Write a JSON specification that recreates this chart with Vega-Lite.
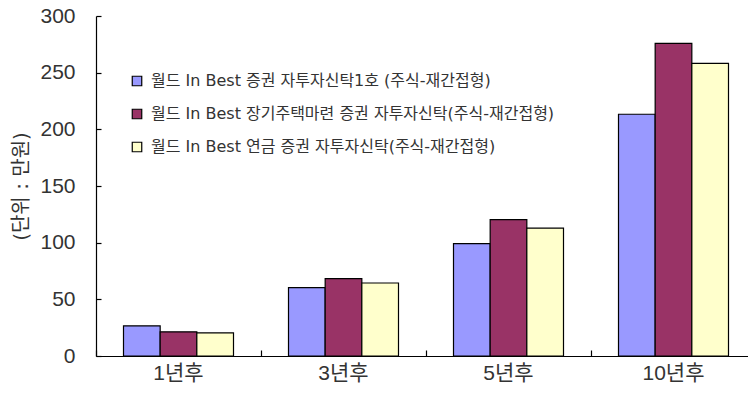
{
  "$schema": "https://vega.github.io/schema/vega-lite/v6.json",
  "width": 660,
  "height": 340,
  "autosize": {"type": "none"},
  "padding": {"left": 96, "top": 16, "right": 0, "bottom": 47},
  "background": "white",
  "config": {
    "view": {"stroke": null},
    "font": "DejaVu Sans, Noto Sans CJK KR",
    "axis": {"grid": false, "domainColor": "#000000", "tickColor": "#000000", "labelColor": "#333333", "titleColor": "#333333"}
  },
  "data": {
    "values": [
      {"period": "1년후", "fund": "월드 In Best 증권 자투자신탁1호 (주식-재간접형)", "value": 26.6},
      {"period": "1년후", "fund": "월드 In Best 장기주택마련 증권 자투자신탁(주식-재간접형)", "value": 21.3},
      {"period": "1년후", "fund": "월드 In Best 연금 증권 자투자신탁(주식-재간접형)", "value": 20.4},
      {"period": "3년후", "fund": "월드 In Best 증권 자투자신탁1호 (주식-재간접형)", "value": 60.4},
      {"period": "3년후", "fund": "월드 In Best 장기주택마련 증권 자투자신탁(주식-재간접형)", "value": 68.2},
      {"period": "3년후", "fund": "월드 In Best 연금 증권 자투자신탁(주식-재간접형)", "value": 64.4},
      {"period": "5년후", "fund": "월드 In Best 증권 자투자신탁1호 (주식-재간접형)", "value": 99.2},
      {"period": "5년후", "fund": "월드 In Best 장기주택마련 증권 자투자신탁(주식-재간접형)", "value": 120.3},
      {"period": "5년후", "fund": "월드 In Best 연금 증권 자투자신탁(주식-재간접형)", "value": 112.8},
      {"period": "10년후", "fund": "월드 In Best 증권 자투자신탁1호 (주식-재간접형)", "value": 213.3},
      {"period": "10년후", "fund": "월드 In Best 장기주택마련 증권 자투자신탁(주식-재간접형)", "value": 275.8},
      {"period": "10년후", "fund": "월드 In Best 연금 증권 자투자신탁(주식-재간접형)", "value": 258.2}
    ]
  },
  "mark": {"type": "bar", "stroke": "#000000", "strokeWidth": 1.2},
  "encoding": {
    "x": {
      "field": "period", "type": "nominal",
      "sort": ["1년후", "3년후", "5년후", "10년후"],
      "scale": {"paddingInner": 0, "paddingOuter": 0},
      "axis": {"title": null, "labelAngle": 0, "labelFont": "Liberation Sans, Noto Sans CJK KR", "labelFontSize": 21, "labelPadding": 12, "tickSize": -6, "bandPosition": 0, "domainWidth": 1.2, "tickWidth": 1.2}
    },
    "xOffset": {
      "field": "fund", "type": "nominal",
      "sort": ["월드 In Best 증권 자투자신탁1호 (주식-재간접형)", "월드 In Best 장기주택마련 증권 자투자신탁(주식-재간접형)", "월드 In Best 연금 증권 자투자신탁(주식-재간접형)"],
      "scale": {"paddingInner": 0, "paddingOuter": 0.75}
    },
    "y": {
      "field": "value", "type": "quantitative",
      "scale": {"domain": [0, 300], "nice": false},
      "axis": {"title": "(단위 : 만원)", "values": [0, 50, 100, 150, 200, 250, 300], "labelFont": "Liberation Sans", "labelFontSize": 21, "titleFont": "DejaVu Sans, Noto Sans CJK KR", "titleFontSize": 20, "titleFontWeight": "normal", "tickSize": -5, "labelPadding": 26, "titlePadding": 8, "domainWidth": 1.2, "tickWidth": 1.2}
    },
    "color": {
      "field": "fund", "type": "nominal",
      "sort": ["월드 In Best 증권 자투자신탁1호 (주식-재간접형)", "월드 In Best 장기주택마련 증권 자투자신탁(주식-재간접형)", "월드 In Best 연금 증권 자투자신탁(주식-재간접형)"],
      "scale": {"range": ["#9999FF", "#993366", "#FFFFCC"]},
      "legend": {
        "title": null, "orient": "none", "legendX": 33, "legendY": 57,
        "symbolType": "square", "symbolSize": 90, "symbolStrokeColor": "#000000", "symbolStrokeWidth": 1.2,
        "labelFont": "DejaVu Sans, Noto Sans CJK KR", "labelFontSize": 16, "labelColor": "#333333", "rowPadding": 17, "labelLimit": 600, "labelOffset": 6
      }
    }
  }
}
